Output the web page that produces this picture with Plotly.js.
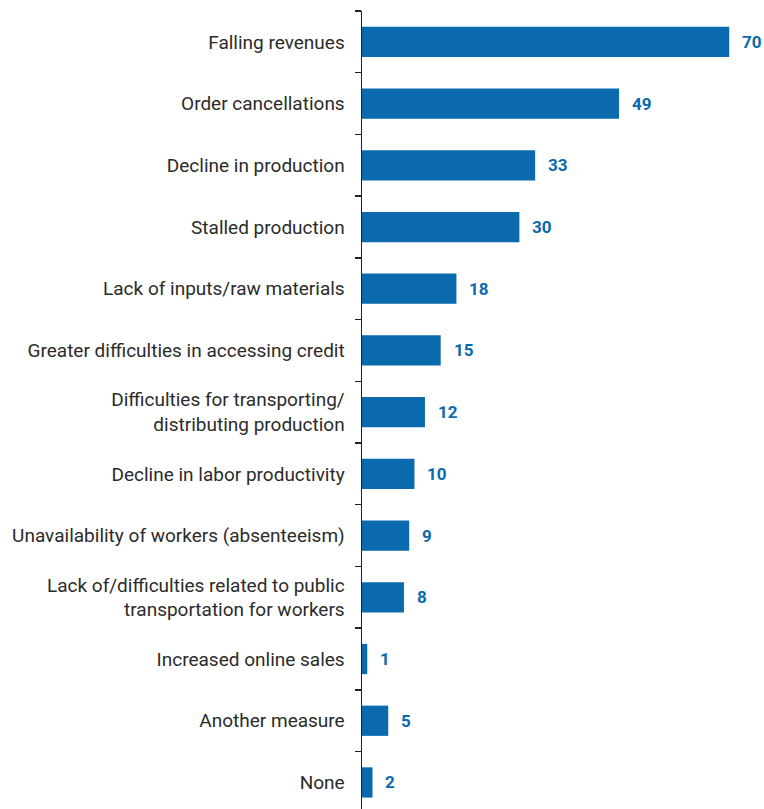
<!DOCTYPE html>
<html>
<head>
<meta charset="utf-8">
<script src="https://cdn.plot.ly/plotly-3.0.1.min.js"></script>
<style>html,body{margin:0;padding:0;background:#fff;}#chart{width:764px;height:809px;}</style>
</head>
<body>
<div id="chart"></div>
<script>
const categories = [
  "Falling revenues",
  "Order cancellations",
  "Decline in production",
  "Stalled production",
  "Lack of inputs/raw materials",
  "Greater difficulties in accessing credit",
  "Difficulties for transporting/<br>distributing production",
  "Decline in labor productivity",
  "Unavailability of workers (absenteeism)",
  "Lack of/difficulties related to public<br>transportation for workers",
  "Increased online sales",
  "Another measure",
  "None"
];
const values = [70, 49, 33, 30, 18, 15, 12, 10, 9, 8, 1, 5, 2];

const barColor = "#0a6aad";
const fontFam = "Roboto, 'Open Sans', sans-serif";

const annotations = categories.map((c, i) => ({
  x: values[i], y: c, xref: "x", yref: "y",
  text: "<b>" + values[i] + "</b>",
  showarrow: false, xanchor: "left", yanchor: "middle", xshift: 11,
  font: {family: fontFam, size: 17, color: barColor}
}));

const trace = {
  type: "bar", orientation: "h",
  x: values, y: categories,
  marker: {color: barColor},
  width: 0.49,
  hoverinfo: "skip"
};

const layout = {
  width: 764, height: 809,
  margin: {l: 362, r: 8, t: 11, b: 0, pad: 0},
  paper_bgcolor: "#fff", plot_bgcolor: "#fff",
  showlegend: false,
  xaxis: {range: [0, 75.1], visible: false, showgrid: false, zeroline: false},
  yaxis: {
    type: "category",
    range: [12.43, -0.5],
    showline: true, linecolor: "#222", linewidth: 1.5,
    ticks: "outside", ticklen: 6, tickcolor: "#222", tickwidth: 1.5,
    tickson: "boundaries",
    ticklabelstandoff: 12,
    showgrid: false, zeroline: false,
    tickfont: {family: fontFam, size: 19, color: "#2b2b2b"}
  },
  annotations: annotations,
  font: {family: fontFam}
};

Plotly.newPlot("chart", [trace], layout, {displayModeBar: false, staticPlot: true});
</script>
</body>
</html>
